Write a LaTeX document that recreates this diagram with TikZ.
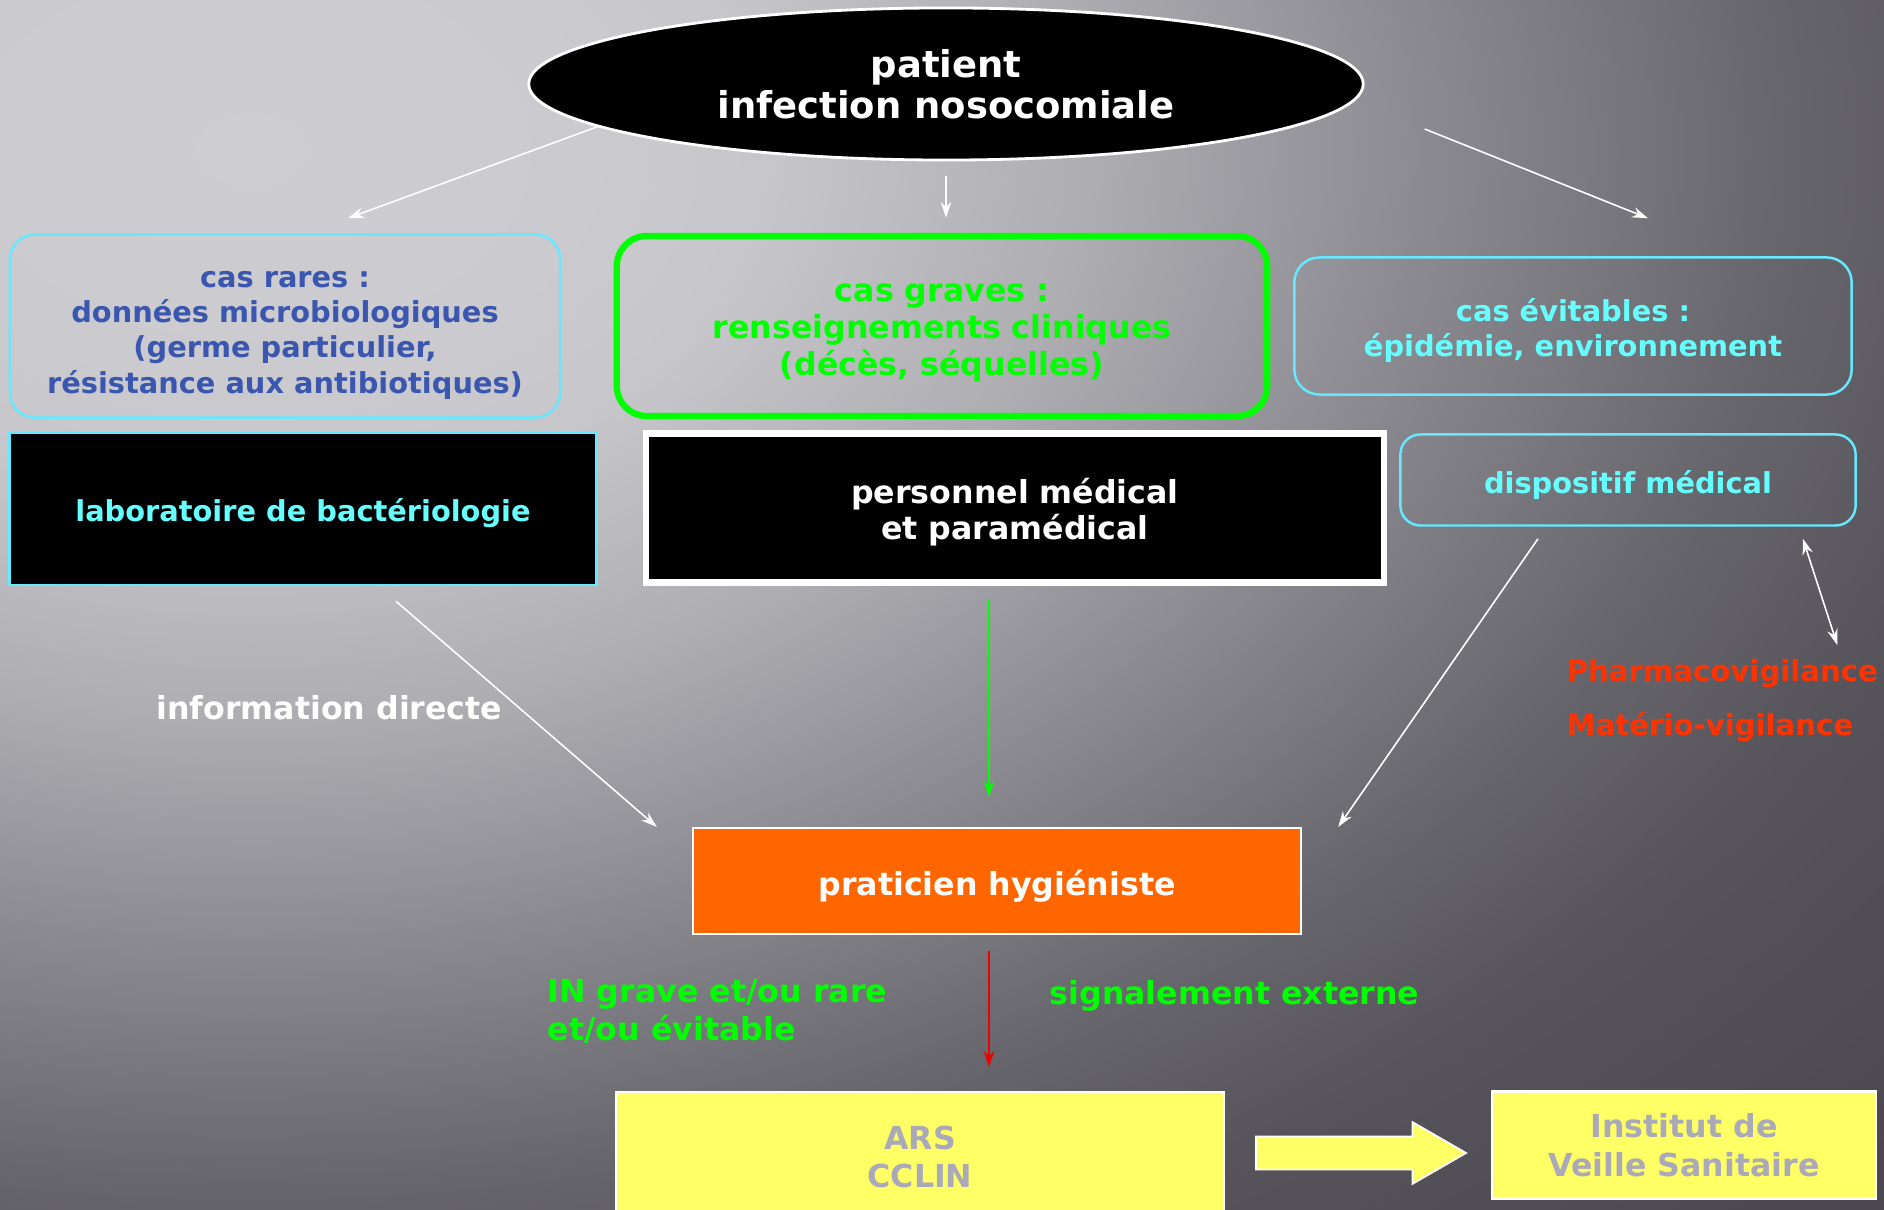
\documentclass[tikz,border=0pt]{standalone}
\usepackage{fontspec}
\setmainfont{DejaVu Sans}
\usetikzlibrary{shapes.geometric,shapes.arrows,arrows.meta,calc}
\newcommand{\topgap}[1]{\rule{0pt}{#1}}
\definecolor{bgcore}{HTML}{CDCDD2}
\definecolor{bgpale}{HTML}{CACACF}
\definecolor{bglight}{HTML}{C6C6CB}
\definecolor{bgsoft}{HTML}{ACACB1}
\definecolor{bgmid}{HTML}{8A8990}
\definecolor{bglow}{HTML}{68666D}
\definecolor{bgdark}{HTML}{56535B}
\definecolor{bgedge}{HTML}{4C484F}
\definecolor{cyanline}{HTML}{66E8FF}
\definecolor{cyantext}{HTML}{66FFFF}
\definecolor{rareblue}{HTML}{3A56AE}
\definecolor{gravegreen}{HTML}{00FF00}
\definecolor{hygorange}{HTML}{FF6600}
\definecolor{boxyellow}{HTML}{FFFF66}
\definecolor{greytext}{HTML}{A9A9B9}
\definecolor{vigired}{HTML}{FF3300}
\definecolor{signalred}{HTML}{EE0000}
\pgfdeclareradialshading{slideglow}{\pgfpoint{0bp}{0bp}}{color(0bp)=(bgcore); color(3.8bp)=(bgpale); color(5.8bp)=(bglight); color(9.6bp)=(bgsoft); color(13.4bp)=(bgmid); color(17.3bp)=(bglow); color(20.2bp)=(bgdark); color(25bp)=(bgedge); color(50bp)=(bgedge)}
\begin{document}
\begin{tikzpicture}[x=0.01cm, y=-0.01cm,
  txt/.style={font=\bfseries\fontsize{8.2}{10}\selectfont, align=center, inner sep=0pt},
  card/.style={txt, draw=cyanline, line width=0.7pt, rounded corners=0.25cm},
  blackbox/.style={txt, fill=black, draw=cyanline, line width=0.7pt},
  yellowbox/.style={txt, fill=boxyellow, draw=white, line width=0.6pt, text=greytext, font=\bfseries\fontsize{9}{11}\selectfont},
  thinarrow/.style={draw=white, line width=0.45pt, -{Stealth[length=4.5pt, width=3pt]}},
  greenarrow/.style={draw=gravegreen, line width=0.6pt, -{Stealth[length=4.5pt, width=3pt]}},
  redarrow/.style={draw=signalred, line width=0.7pt, -{Stealth[length=4.5pt, width=3pt]}}]
\useasboundingbox (0,0) rectangle (1884,1210);
\begin{scope}
\clip (0,0) rectangle (1884,1210);
\fill[bgedge] (0,0) rectangle (1884,1210);
\shade[shading=slideglow] (250,150) ellipse [x radius=2210, y radius=1495];
\end{scope}
\node[ellipse, fill=black, draw=white, line width=0.8pt, minimum width=8.34cm, minimum height=1.52cm, inner sep=0pt, text=white, align=center, font=\bfseries\fontsize{10.5}{11.7}\selectfont] (patient) at (946,84) {patient\\infection nosocomiale};
\node[card, text=rareblue, minimum width=5.5cm, minimum height=1.83cm] (rares) at (285,326) {\topgap{1.2em}cas rares :\\données microbiologiques\\(germe particulier,\\résistance aux antibiotiques)};
\node[card, draw=gravegreen, line width=1.8pt, rounded corners=0.3cm, text=gravegreen, font=\bfseries\fontsize{9}{10.6}\selectfont, minimum width=6.5cm, minimum height=1.8cm] (graves) at (942,326) {\topgap{1em}cas graves :\\renseignements cliniques\\(décès, séquelles)};
\node[card, text=cyantext, minimum width=5.57cm, minimum height=1.37cm] (evitables) at (1573,326) {\topgap{1.1em}cas évitables :\\épidémie, environnement};
\node[blackbox, text=cyantext, minimum width=5.87cm, minimum height=1.52cm] (labo) at (303,509) {\topgap{1.1em}laboratoire de bactériologie};
\node[blackbox, draw=white, line width=1.8pt, text=white, font=\bfseries\fontsize{9}{10.3}\selectfont, minimum width=7.38cm, minimum height=1.49cm] (personnel) at (1015,508) {\topgap{1.07em}personnel médical\\et paramédical};
\node[card, text=cyantext, rounded corners=0.2cm, minimum width=4.55cm, minimum height=0.91cm] (dispositif) at (1628,480) {\topgap{1.17em}dispositif médical};
\node[txt, text=white, font=\bfseries\fontsize{9}{10}\selectfont, anchor=east] (infodirecte) at (503,708) {information directe};
\node[txt, text=vigired, font=\bfseries\fontsize{8.3}{9}\selectfont, anchor=west] (pharma) at (1566,674) {Pharmacovigilance};
\node[txt, text=vigired, font=\bfseries\fontsize{8.3}{9}\selectfont, anchor=west] (materio) at (1566,727) {Matério-vigilance};
\node[txt, fill=hygorange, draw=white, line width=0.6pt, text=white, font=\bfseries\fontsize{9}{10}\selectfont, minimum width=6.08cm, minimum height=1.06cm] (praticien) at (997,881) {\topgap{1.13em}praticien hygiéniste};
\node[txt, text=gravegreen, font=\bfseries\fontsize{9}{10.8}\selectfont, align=left, anchor=west] (ingrave) at (547,1011) {IN grave et/ou rare\\et/ou évitable};
\node[txt, text=gravegreen, font=\bfseries\fontsize{9}{10}\selectfont, anchor=west] (externe) at (1049,996) {signalement externe};
\node[yellowbox, minimum width=6.08cm, minimum height=1.3cm] (ars) at (920,1157) {ARS\\CCLIN};
\node[yellowbox, minimum width=3.84cm, minimum height=1.07cm] (institut) at (1684,1145) {Institut de\\Veille Sanitaire};
\node[single arrow, anchor=tail, fill=boxyellow, draw=white, line width=0.5pt, minimum height=2.1cm, minimum width=0.6cm, single arrow head extend=0.145cm, single arrow tip angle=60, inner sep=0.155cm] (flow) at (1255,1153) {};
\draw[thinarrow] (patient.187) -- ($(rares.north)+(63,-15)$);
\draw[thinarrow, shorten <=0.15cm, shorten >=0.15cm] (patient.south) -- (patient.south |- graves.north);
\draw[thinarrow] ($(patient.east)+(60,45)$) -- ($(evitables.north)+(75,-38)$);
\draw[thinarrow] ($(labo.south)+(93,15)$) -- ($(praticien.north west)+(-35,0)$);
\draw[greenarrow] ($(personnel.south)+(-26,14)$) -- ($(praticien.north)+(-8,-30)$);
\draw[thinarrow] ($(dispositif.south)+(-90,12)$) -- ($(praticien.north east)+(36,0)$);
\draw[thinarrow, {Stealth[length=4.5pt, width=3pt]}-{Stealth[length=4.5pt, width=3pt]}] ($(dispositif.south east)+(-54,12)$) -- ($(pharma.north)+(115,-14)$);
\draw[redarrow] ($(praticien.south)+(-8,16)$) -- ($(ars.north)+(69,-24)$);
\end{tikzpicture}
\end{document}
